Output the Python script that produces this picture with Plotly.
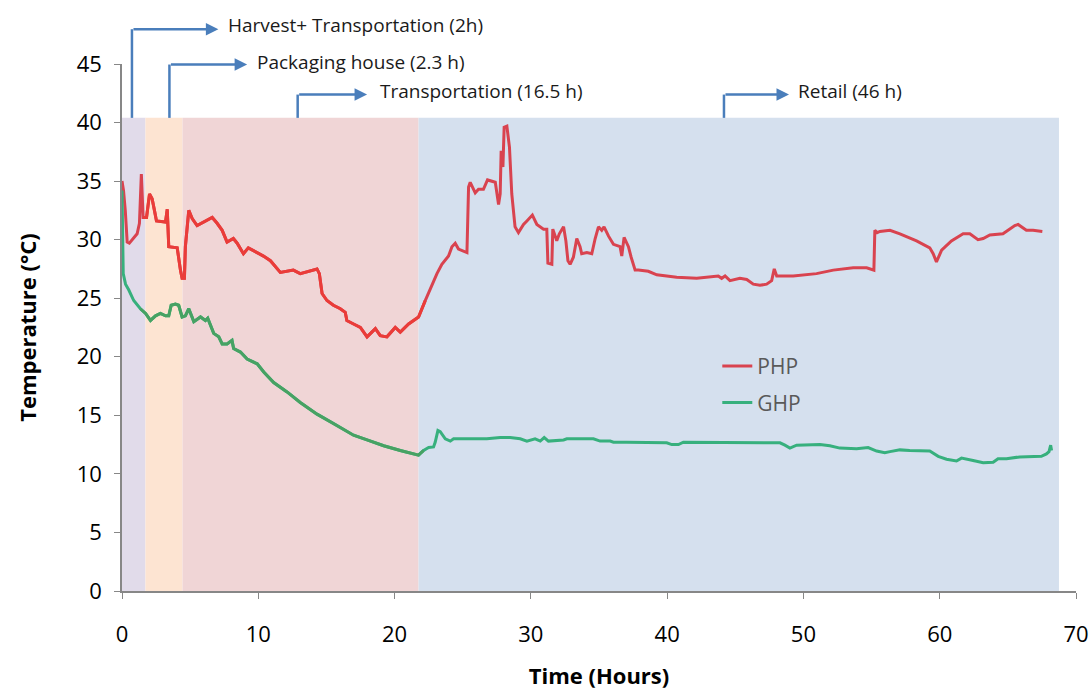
import plotly.graph_objects as go

# ---- temperature logs (hours since harvest, °C) ----
hours_php = [0, 0.11, 0.24, 0.38, 0.54, 0.84, 1.11, 1.28, 1.42, 1.55, 1.80, 2.02, 2.21, 2.38, 2.53,
             3.19, 3.32, 3.43, 4.05, 4.29, 4.41, 4.58, 4.65, 4.90, 5.15, 5.51, 5.97, 6.62, 6.98,
             7.35, 7.71, 8.17, 8.45, 8.91, 9.27, 10.38, 10.89, 11.62, 12.57, 13.08, 14.31, 14.48,
             14.68, 15.04, 15.51, 16.02, 16.38, 16.50, 16.99, 17.49, 17.98, 18.59, 18.95, 19.44,
             20.05, 20.42, 21.03, 21.76, 22.25, 22.86, 23.11, 23.47, 23.96, 24.21, 24.45, 24.69,
             25.31, 25.43, 25.55, 25.92, 26.16, 26.52, 26.82, 27.39, 27.63, 27.75, 27.82, 27.95,
             28.04, 28.24, 28.43, 28.60, 28.84, 29.09, 29.46, 29.71, 30.11, 30.44, 30.93, 31.17,
             31.25, 31.54, 31.61, 31.90, 32.09, 32.40, 32.57, 32.72, 32.88, 33.12, 33.37, 33.61,
             33.73, 34.11, 34.47, 34.72, 34.96, 35.20, 35.37, 35.70, 36.06, 36.55, 36.67, 36.84,
             37.16, 37.36, 37.65, 37.89, 38.62, 39.24, 39.97, 40.70, 42.17, 42.91, 43.75, 44.00,
             44.25, 44.61, 45.34, 45.84, 46.32, 46.81, 47.30, 47.67, 47.86, 48.04, 49.25, 50.96,
             52.19, 53.65, 54.64, 55.17, 55.24, 55.41, 55.61, 56.35, 57.08, 58.30, 59.27, 59.52,
             59.76, 60.14, 60.86, 61.72, 62.21, 62.81, 63.19, 63.68, 64.64, 65.51, 65.75, 66.36,
             66.85, 67.53]
temp_php = [35.0, 34.2, 32.5, 29.8, 29.7, 30.1, 30.5, 31.4, 35.6, 31.9, 31.9, 33.9, 33.5, 32.5, 31.6,
            31.5, 32.6, 29.4, 29.3, 27.4, 26.7, 26.7, 29.4, 32.5, 31.8, 31.2, 31.5, 31.9, 31.4,
            30.8, 29.8, 30.1, 29.7, 28.8, 29.3, 28.6, 28.2, 27.2, 27.4, 27.1, 27.5, 27.1,
            25.4, 24.8, 24.4, 24.1, 23.8, 23.1, 22.8, 22.5, 21.7, 22.4, 21.8, 21.7,
            22.5, 22.1, 22.8, 23.4, 24.8, 26.5, 27.1, 27.9, 28.6, 29.4, 29.7, 29.2,
            28.9, 34.5, 34.9, 34.0, 34.3, 34.3, 35.1, 34.9, 33.0, 33.9, 37.6, 36.2,
            39.6, 39.7, 37.9, 33.9, 31.1, 30.6, 31.3, 31.6, 32.1, 31.3, 30.9, 30.9,
            28.0, 27.9, 30.9, 29.9, 30.5, 31.1, 29.9, 28.2, 27.9, 28.5, 30.1, 29.4,
            28.8, 28.9, 28.8, 30.1, 31.1, 30.8, 31.1, 30.3, 29.6, 29.4, 28.6, 30.2,
            29.4, 28.5, 27.4, 27.4, 27.3, 27.0, 26.9, 26.8, 26.7, 26.8, 26.9, 26.7,
            26.9, 26.5, 26.7, 26.6, 26.2, 26.1, 26.2, 26.5, 27.5, 26.9, 26.9, 27.1,
            27.4, 27.6, 27.6, 27.4, 30.8, 30.6, 30.7, 30.8, 30.5, 29.9, 29.3, 28.8,
            28.1, 29.1, 29.9, 30.5, 30.5, 30.0, 30.1, 30.4, 30.5, 31.2, 31.3, 30.8,
            30.8, 30.7]

hours_ghp = [0, 0.06, 0.09, 0.26, 0.50, 0.86, 1.35, 1.73, 2.09, 2.46, 2.82, 3.19, 3.43, 3.61, 3.92,
             4.16, 4.41, 4.65, 4.90, 5.27, 5.76, 6.12, 6.29, 6.73, 7.10, 7.35, 7.71, 8.07, 8.19,
             8.69, 9.18, 9.92, 10.40, 11.13, 12.11, 13.08, 14.31, 15.53, 16.99, 17.98, 19.20, 20.42,
             21.15, 21.76, 22.13, 22.50, 22.86, 22.98, 23.18, 23.35, 23.72, 24.09, 24.33, 26.77,
             27.75, 28.48, 29.22, 29.71, 30.31, 30.69, 30.98, 31.29, 32.40, 32.64, 34.59, 35.08,
             35.82, 36.06, 37.04, 39.97, 40.34, 40.83, 41.19, 42.17, 42.54, 44.61, 44.98, 45.84,
             48.28, 48.64, 49.01, 49.50, 50.48, 51.21, 51.94, 52.67, 53.90, 54.75, 55.37, 55.97,
             56.35, 57.08, 57.80, 59.27, 59.89, 60.50, 61.23, 61.60, 62.45, 63.19, 63.92, 64.28,
             64.90, 65.87, 67.46, 67.83, 68.02, 68.14, 68.21]
temp_ghp = [34.2, 30.8, 27.1, 26.2, 25.7, 24.8, 24.1, 23.7, 23.1, 23.5, 23.7, 23.5, 23.5, 24.4, 24.5,
            24.4, 23.4, 23.5, 24.1, 23.0, 23.4, 23.1, 23.3, 22.0, 21.7, 21.1, 21.1, 21.4, 20.7,
            20.4, 19.8, 19.4, 18.7, 17.8, 17.0, 16.1, 15.1, 14.3, 13.3, 12.9, 12.4, 12.0,
            11.8, 11.6, 12.0, 12.25, 12.3, 12.7, 13.7, 13.6, 13.0, 12.8, 13.0, 13.0,
            13.1, 13.1, 13.0, 12.8, 13.0, 12.8, 13.1, 12.8, 12.9, 13.0, 13.0, 12.8,
            12.8, 12.7, 12.7, 12.65, 12.5, 12.5, 12.7, 12.7, 12.65, 12.65, 12.7, 12.65,
            12.65, 12.45, 12.2, 12.45, 12.5, 12.5, 12.4, 12.2, 12.15, 12.25, 11.95, 11.8,
            11.9, 12.05, 12.0, 11.95, 11.5, 11.25, 11.1, 11.35, 11.15, 10.95, 11.0, 11.3,
            11.3, 11.45, 11.5, 11.7, 11.9, 12.45, 12.0]

# ---- supply-chain stages ----
stage_labels = ["Harvest+ Transportation (2h)", "Packaging house (2.3 h)",
                "Transportation (16.5 h)", "Retail (46 h)"]
stage_start = [0, 1.72, 4.44, 21.76]
stage_end = [1.72, 4.44, 21.76, 68.75]
stage_top = 40.4

stage_fill = ["#E1DBEA", "#FDE4D2", "#F0D5D6", "#D5E0EE"]
arrow_blue = "#4A7EBB"
font_family = "Open Sans, Noto Sans, sans-serif"


def segment(xs, ys, lo, hi):
    """Points between lo and hi, padded by one neighbour on each side."""
    idx = [i for i, x in enumerate(xs) if lo <= x <= hi]
    i0 = max(idx[0] - 1, 0)
    i1 = min(idx[-1] + 1, len(xs) - 1)
    return xs[i0:i1 + 1], ys[i0:i1 + 1]


fig = go.Figure()

series = [
    ("PHP", hours_php, temp_php, "#D9434F", "#EA3C39"),
    ("GHP", hours_ghp, temp_ghp, "#37B07D", "#47A263"),
]
for name, xs, ys, col, mid_col in series:
    fig.add_trace(go.Scatter(
        x=xs, y=ys, mode="lines", name=name, legendgroup=name,
        line=dict(color=col, width=3),
    ))
    # the packing/transport stretch of each log is drawn in a warmer tone
    sx, sy = segment(xs, ys, stage_start[1], stage_end[2])
    fig.add_trace(go.Scatter(
        x=sx, y=sy, mode="lines", showlegend=False, legendgroup=name,
        line=dict(color=mid_col, width=3), hoverinfo="skip",
    ))

# stage background bands
for x0, x1, fc in zip(stage_start, stage_end, stage_fill):
    fig.add_shape(type="rect", xref="x", yref="y", x0=x0, x1=x1, y0=0, y1=stage_top,
                  fillcolor=fc, line=dict(width=0), layer="below")

# elbow call-outs above the bands: stem x, arrow-tip x, label x, height (paper)
callout_stem = [0.73, 3.48, 12.89, 44.17]
callout_tip = [7.07, 9.18, 17.98, 48.94]
callout_text_x = [7.62, 9.74, 18.8, 49.45]
callout_y = [1.066, 0.999, 0.942, 0.942]
callout_text_y = [1.074, 1.003, 0.949, 0.949]

y_band_top = stage_top / 45.0
for label, xs_, xt, xl, yy, ty in zip(stage_labels, callout_stem, callout_tip,
                                      callout_text_x, callout_y, callout_text_y):
    fig.add_shape(type="line", xref="x", yref="paper", x0=xs_, x1=xs_,
                  y0=y_band_top, y1=yy, line=dict(color=arrow_blue, width=2.5))
    fig.add_annotation(xref="x", yref="paper", x=xt, y=yy, axref="x", ayref="pixel",
                       ax=xs_, ay=0, text="", showarrow=True, arrowhead=2,
                       arrowsize=1, arrowwidth=2.5, arrowcolor=arrow_blue,
                       standoff=0, startstandoff=0)
    fig.add_annotation(xref="x", yref="paper", x=xl, y=ty, text=label, showarrow=False,
                       xanchor="left", yanchor="middle",
                       font=dict(family=font_family, size=19, color="#1A1A1A"))

axis_common = dict(
    showline=True, linecolor="#878787", linewidth=1.5,
    ticks="outside", ticklen=6, tickwidth=1.2, tickcolor="#878787",
    showgrid=False, zeroline=False, ticklabeloverflow="allow", automargin=False,
    tickfont=dict(family=font_family, size=22, color="#000000"),
)

fig.update_layout(
    width=1092, height=693,
    margin=dict(l=122, r=16, t=64, b=102, autoexpand=False),
    paper_bgcolor="white", plot_bgcolor="white",
    font=dict(family=font_family),
    xaxis=dict(range=[0, 70], tickvals=list(range(0, 71, 10)), ticklabelstandoff=17,
               title=dict(text="Time (Hours)", standoff=21,
                          font=dict(family=font_family, size=22, color="#000000", weight="bold")),
               **axis_common),
    yaxis=dict(range=[0, 45], tickvals=list(range(0, 46, 5)), ticklabelstandoff=8,
               title=dict(text="Temperature (°C)", standoff=34,
                          font=dict(family=font_family, size=22, color="#000000", weight="bold")),
               **axis_common),
    legend=dict(x=0.624, y=0.465, xanchor="left", yanchor="top",
                bgcolor="rgba(0,0,0,0)", traceorder="grouped", tracegroupgap=6,
                font=dict(family=font_family, size=21, color="#595959")),
    showlegend=True,
)

fig.write_html("out.html")
